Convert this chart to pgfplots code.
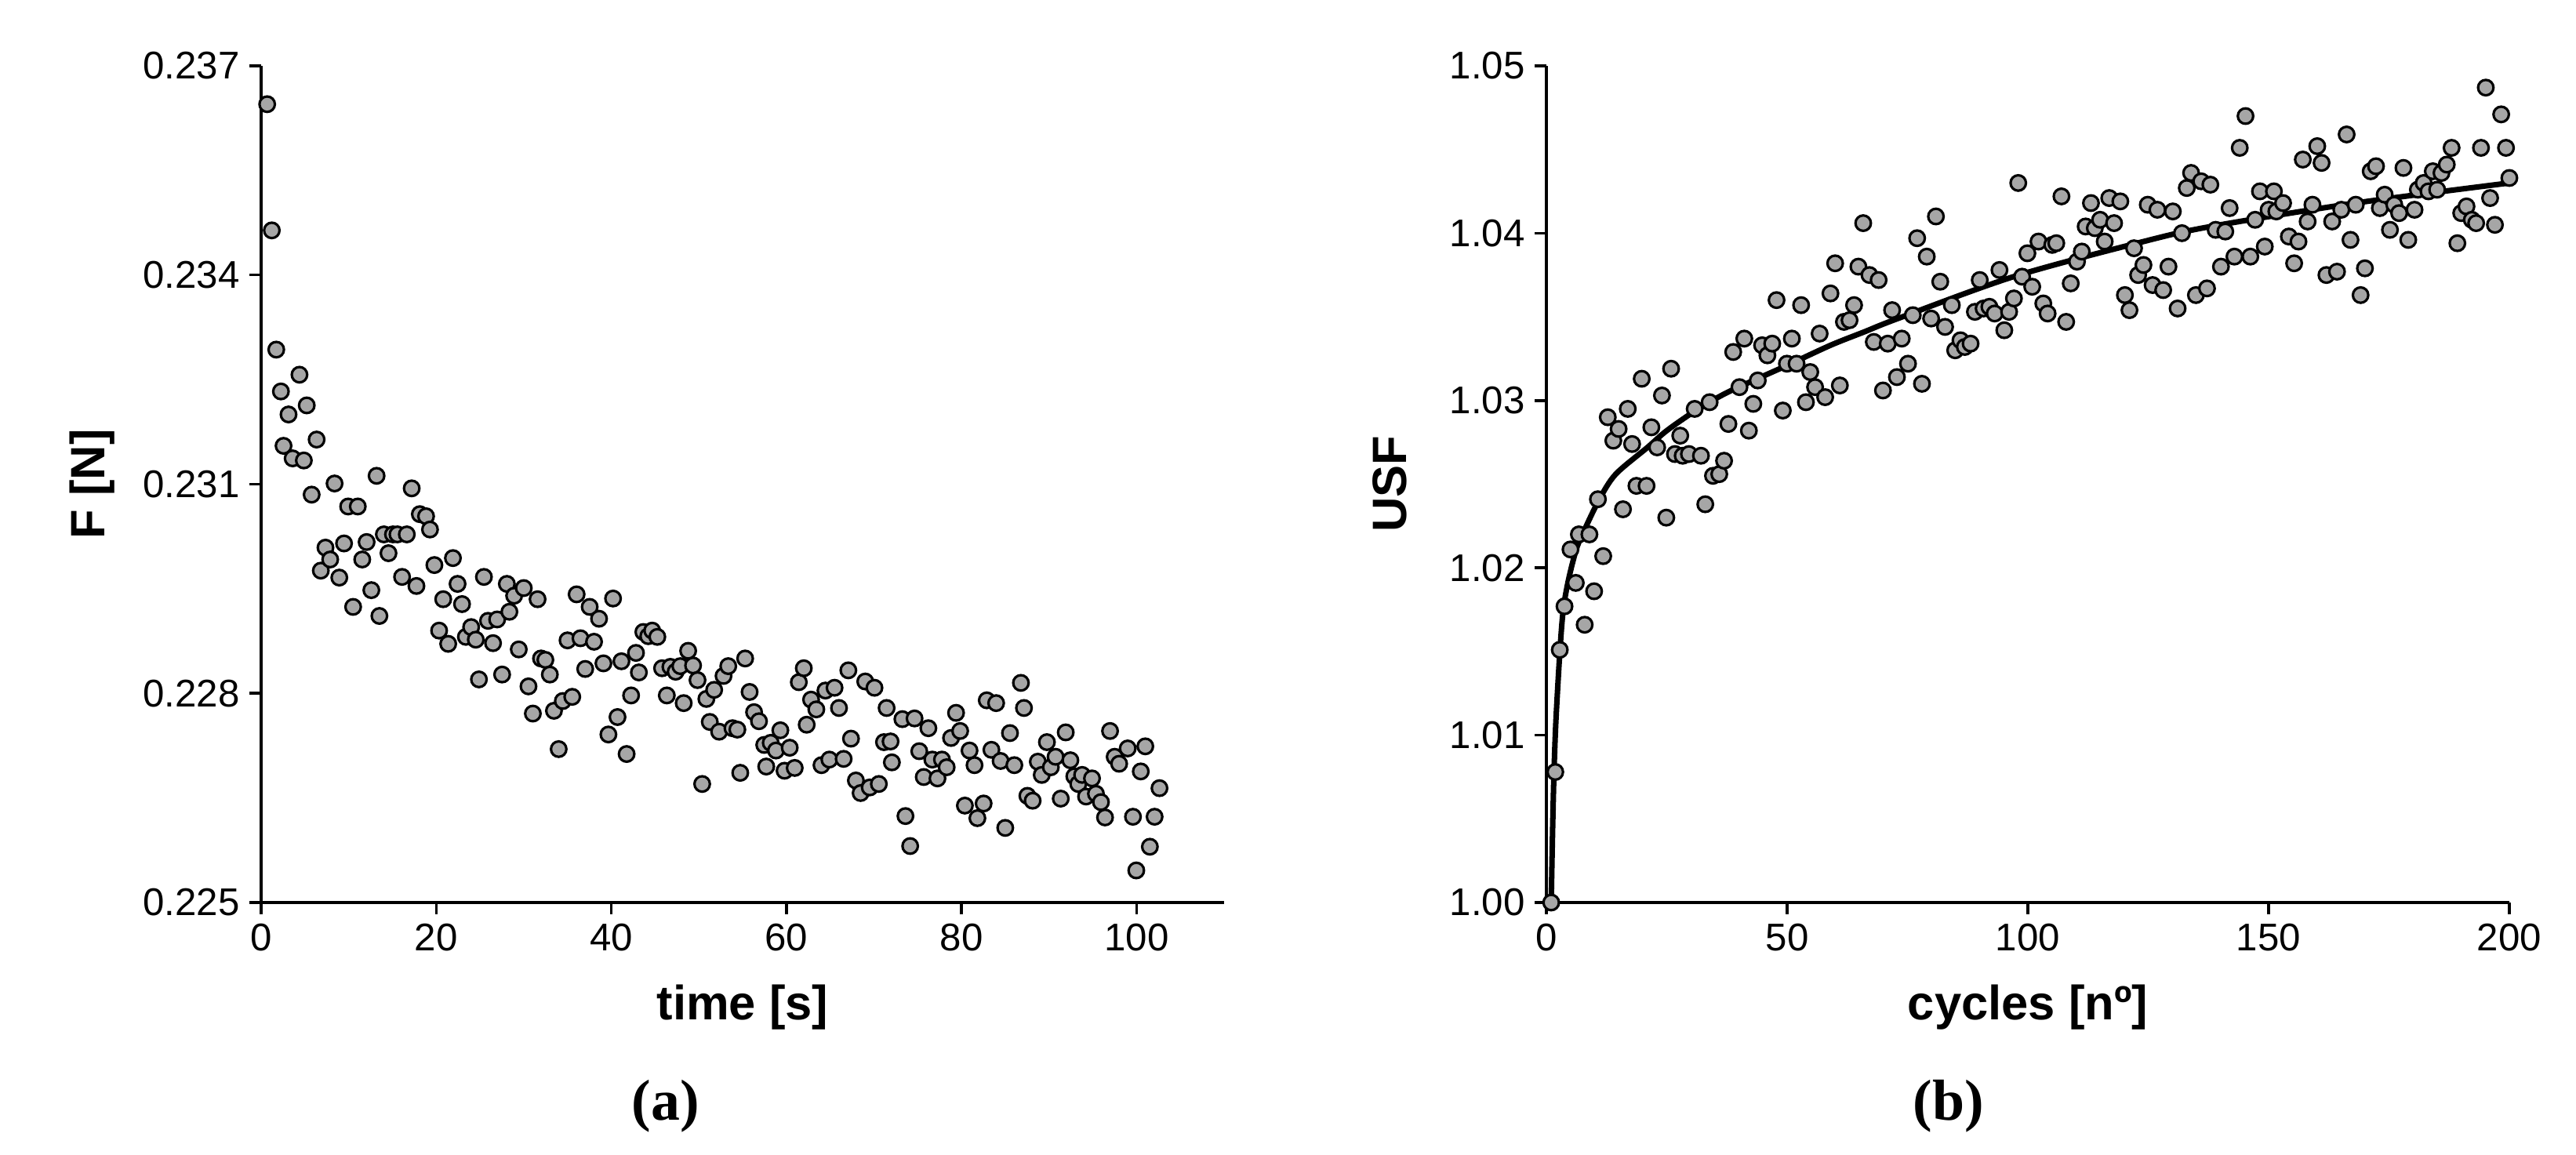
\documentclass[border=0pt]{standalone}
\usepackage{fontspec}
\setmainfont{Liberation Sans}
\newfontfamily\capfont{Liberation Serif}
\usepackage{pgfplots}
\pgfplotsset{compat=1.18}
\definecolor{markgray}{RGB}{166,166,166}

\pgfplotsset{
  panel/.style={
    scale only axis,
    width=12.28cm, height=10.67cm,
    axis lines*=left,
    axis line style={line width=1pt},
    tick align=outside, tick pos=left,
    major tick length=0.15cm,
    every tick/.style={line width=1pt, black},
    xticklabel style={font=\fontsize{14}{17}\selectfont},
    yticklabel style={font=\fontsize{14}{17}\selectfont},
    label style={font=\bfseries\fontsize{17.5}{21}\selectfont},
    clip=false,
  },
  dots/.style={only marks, mark=*, mark size=2.8pt,
    mark options={fill=markgray, draw=black, line width=0.9pt}},
}

\begin{document}
\begin{tikzpicture}
\path[use as bounding box] (0,0) rectangle (32.85,14.73);

% (a) force relaxation
\begin{axis}[panel,
    at={(3.33cm,3.22cm)}, anchor=south west,
    xmin=0, xmax=110, ymin=0.225, ymax=0.237,
    xtick={0,20,40,60,80,100},
    xticklabels={0,20,40,60,80,100},
    ytick={0.225,0.228,0.231,0.234,0.237},
    yticklabels={0.225,0.228,0.231,0.234,0.237},
    xlabel={time [s]}, ylabel={F [N]},
    xlabel style={at={(axis description cs:0.5,-0.1256)}, anchor=center},
    ylabel style={at={(axis description cs:-0.1755,0.5)}, anchor=center},
]
\addplot[dots] coordinates {
(0.69,0.23645) (1.22,0.23464) (1.73,0.23293) (2.26,0.23233) (2.56,0.23155)
(3.13,0.23200) (3.60,0.23137) (4.38,0.23257) (4.88,0.23134) (5.21,0.23213)
(5.77,0.23085) (6.34,0.23164) (6.82,0.22976) (7.35,0.23009) (7.89,0.22992)
(8.39,0.23101) (8.93,0.22966) (9.47,0.23015) (9.94,0.23068) (10.51,0.22924)
(11.04,0.23068) (11.55,0.22992) (12.05,0.23017) (12.59,0.22948) (13.19,0.23112)
(13.51,0.22911) (14.02,0.23028) (14.55,0.23001) (15.06,0.23028) (15.57,0.23028)
(16.10,0.22967) (16.64,0.23028) (17.20,0.23094) (17.74,0.22954) (18.13,0.23057)
(18.84,0.23054) (19.29,0.23035) (19.79,0.22984) (20.33,0.22890) (20.80,0.22935)
(21.37,0.22871) (21.91,0.22994) (22.44,0.22957) (22.95,0.22928) (23.39,0.22881)
(23.99,0.22895) (24.52,0.22877) (24.88,0.22820) (25.45,0.22967) (25.92,0.22904)
(26.49,0.22872) (26.96,0.22906) (27.53,0.22827) (28.07,0.22957) (28.36,0.22917)
(28.90,0.22940) (29.43,0.22863) (30.00,0.22951) (30.54,0.22810) (31.04,0.22771)
(31.58,0.22935) (31.97,0.22850) (32.47,0.22848) (32.98,0.22827) (33.45,0.22775)
(33.99,0.22720) (34.46,0.22789) (35.00,0.22876) (35.54,0.22795) (36.04,0.22942)
(36.48,0.22879) (37.02,0.22835) (37.53,0.22924) (38.03,0.22874) (38.60,0.22907)
(39.10,0.22843) (39.67,0.22741) (40.20,0.22936) (40.71,0.22766) (41.16,0.22846)
(41.75,0.22713) (42.26,0.22797) (42.82,0.22858) (43.15,0.22830) (43.66,0.22888)
(44.22,0.22882) (44.67,0.22890) (45.26,0.22881) (45.80,0.22836) (46.34,0.22797)
(46.75,0.22838) (47.35,0.22831) (47.88,0.22839) (48.27,0.22786) (48.78,0.22861)
(49.34,0.22840) (49.85,0.22819) (50.38,0.22670) (50.86,0.22792) (51.25,0.22759)
(51.75,0.22805) (52.32,0.22745) (52.82,0.22825) (53.36,0.22839) (53.84,0.22750)
(54.40,0.22748) (54.73,0.22686) (55.29,0.22850) (55.80,0.22802) (56.31,0.22773)
(56.87,0.22760) (57.47,0.22726) (57.70,0.22695) (58.21,0.22729) (58.81,0.22718)
(59.31,0.22747) (59.79,0.22689) (60.38,0.22722) (60.95,0.22693) (61.42,0.22816)
(61.99,0.22836) (62.32,0.22755) (62.82,0.22791) (63.42,0.22777) (64.01,0.22697)
(64.46,0.22804) (64.91,0.22705) (65.50,0.22808) (66.01,0.22779) (66.54,0.22706)
(67.08,0.22833) (67.38,0.22735) (67.94,0.22675) (68.48,0.22657) (69.01,0.22817)
(69.52,0.22665) (70.06,0.22808) (70.56,0.22670) (71.15,0.22730) (71.45,0.22779)
(71.90,0.22731) (72.05,0.22701) (73.25,0.22763) (73.60,0.22624) (74.14,0.22581)
(74.64,0.22764) (75.18,0.22717) (75.69,0.22680) (76.22,0.22750) (76.67,0.22705)
(77.26,0.22678) (77.77,0.22705) (78.31,0.22694) (78.81,0.22736) (79.38,0.22772)
(79.85,0.22746) (80.39,0.22639) (80.92,0.22718) (81.49,0.22697) (81.82,0.22621)
(82.53,0.22642) (82.89,0.22790) (83.42,0.22719) (83.96,0.22786) (84.47,0.22703)
(85.00,0.22607) (85.54,0.22743) (86.04,0.22697) (86.79,0.22815) (87.14,0.22779)
(87.53,0.22653) (88.13,0.22646) (88.72,0.22702) (89.17,0.22683) (89.76,0.22730)
(90.21,0.22694) (90.75,0.22709) (91.34,0.22649) (91.91,0.22744) (92.44,0.22704)
(92.89,0.22681) (93.34,0.22670) (93.78,0.22683) (94.23,0.22652) (94.91,0.22678)
(95.36,0.22656) (95.93,0.22644) (96.40,0.22622) (96.97,0.22746) (97.50,0.22709)
(98.01,0.22699) (98.99,0.22721) (99.59,0.22623) (99.97,0.22546) (100.48,0.22688)
(101.00,0.22724) (101.52,0.22580) (102.06,0.22623) (102.62,0.22664)
};
\end{axis}

% (b) USF versus cycles
\begin{axis}[panel,
    at={(19.72cm,3.22cm)}, anchor=south west,
    xmin=0, xmax=200, ymin=1.0, ymax=1.05,
    xtick={0,50,100,150,200},
    xticklabels={0,50,100,150,200},
    ytick={1.00,1.01,1.02,1.03,1.04,1.05},
    yticklabels={1.00,1.01,1.02,1.03,1.04,1.05},
    xlabel={cycles [nº]}, ylabel={USF},
    xlabel style={at={(axis description cs:0.5,-0.1256)}, anchor=center},
    ylabel style={at={(axis description cs:-0.1626,0.5)}, anchor=center},
]
\addplot[dots] coordinates {
(1,1.0000) (1.85,1.0078) (2.78,1.0151) (3.76,1.0177) (5.0,1.0211) (6.1,1.0191)
(6.75,1.0220) (7.95,1.0166) (8.93,1.0220) (9.91,1.0186) (10.7,1.0241) (11.8,1.0207)
(12.75,1.0290) (13.9,1.0276) (15.0,1.0283) (15.9,1.0235) (16.9,1.0295) (17.8,1.0274)
(18.7,1.0249) (19.8,1.0313) (20.8,1.0249) (21.8,1.0284) (23.0,1.0272) (24.0,1.0303)
(24.9,1.0230) (25.9,1.0319) (26.7,1.0268) (27.8,1.0279) (28.3,1.0267) (29.6,1.0268)
(30.8,1.0295) (32.1,1.0267) (33.0,1.0238) (33.9,1.0299) (34.6,1.0255) (35.9,1.0256)
(36.9,1.0264) (37.8,1.0286) (38.8,1.0329) (40.1,1.0308) (41.1,1.0337) (42.05,1.0282)
(42.97,1.0298) (43.9,1.0312) (44.8,1.0333) (45.9,1.0327) (46.9,1.0334) (47.8,1.0360)
(49.1,1.0294) (49.95,1.0322) (50.98,1.0337) (51.96,1.0322) (52.9,1.0357) (53.9,1.0299)
(54.8,1.0317) (55.8,1.0308) (56.75,1.0340) (57.9,1.0302) (59.0,1.0364) (59.97,1.0382)
(60.95,1.0309) (61.8,1.0347) (62.96,1.0348) (63.9,1.0357) (64.8,1.0380) (65.8,1.0406)
(67.1,1.0375) (68.0,1.0335) (69.0,1.0372) (69.9,1.0306) (70.9,1.0334) (71.8,1.0354)
(72.8,1.0314) (73.8,1.0337) (75.1,1.0322) (76.1,1.0351) (77.0,1.0397) (78.0,1.0310)
(79.0,1.0386) (79.9,1.0349) (80.9,1.0410) (81.8,1.0371) (82.8,1.0344) (84.2,1.0357)
(84.9,1.0330) (86.0,1.0336) (86.9,1.0332) (88.1,1.0334) (89.0,1.0353) (90.0,1.0372)
(90.8,1.0355) (92.0,1.0356) (93.1,1.0352) (94.1,1.0378) (95.1,1.0342) (96.1,1.0353)
(97.1,1.0361) (98.0,1.0430) (98.8,1.0374) (99.9,1.0388) (100.9,1.0368) (102.2,1.0395)
(103.2,1.0358) (104.1,1.0352) (105.06,1.0393) (105.9,1.0394) (106.97,1.0422) (107.95,1.0347)
(108.9,1.0370) (110.2,1.0383) (111.2,1.0389) (112.0,1.0404) (113.1,1.0418) (113.9,1.0403)
(115.0,1.0408) (115.95,1.0395) (116.9,1.0421) (117.9,1.0406) (119.2,1.0419) (120.15,1.0363)
(121.1,1.0354) (122.05,1.0391) (122.9,1.0375) (124.0,1.0381) (124.9,1.0417) (125.9,1.0369)
(126.9,1.0414) (128.1,1.0366) (129.2,1.0380) (130.1,1.0413) (131.1,1.0355) (132.0,1.0400)
(133.0,1.0427) (133.9,1.0436) (134.9,1.0363) (136.0,1.0431) (137.2,1.0367) (137.9,1.0429)
(139.0,1.0402) (140.1,1.0380) (141.0,1.0401) (141.9,1.0415) (142.9,1.0386) (144.0,1.0451)
(145.2,1.0470) (146.2,1.0386) (147.2,1.0408) (148.2,1.0425) (149.2,1.0392) (150.0,1.0414)
(151.1,1.0425) (151.6,1.0413) (153.0,1.0418) (154.2,1.0398) (155.3,1.0382) (156.2,1.0395)
(157.1,1.0444) (158.1,1.0407) (159.1,1.0417) (160.1,1.0452) (161.0,1.0442) (162.0,1.0375)
(163.2,1.0407) (164.2,1.0377) (165.1,1.0414) (166.2,1.0459) (167.0,1.0396) (168.1,1.0417)
(169.1,1.0363) (170.0,1.0379) (171.2,1.0437) (172.3,1.0440) (173.1,1.0415) (174.1,1.0423)
(175.2,1.0402) (176.1,1.0417) (177.1,1.0412) (178.0,1.0439) (179.0,1.0396) (180.3,1.0414)
(181.0,1.0426) (182.2,1.0430) (183.2,1.0425) (184.1,1.0437) (185.0,1.0426) (185.9,1.0436)
(187.0,1.0441) (188.0,1.0451) (189.2,1.0394) (190.0,1.0412) (191.1,1.0416) (192.2,1.0408)
(193.1,1.0406) (194.1,1.0451) (195.1,1.0487) (196.0,1.0421) (197.0,1.0405) (198.3,1.0471)
(199.3,1.0451) (200.0,1.0433)
};
% fitted trend
\addplot[smooth, black, line width=2pt] coordinates {
(1,1.0000) (1.3,1.0045) (1.6,1.0080) (2.0,1.0110) (2.8,1.0150) (3.5,1.0175)
(4.6,1.0193) (6.2,1.0211) (7.8,1.0222) (11,1.0241) (14.4,1.0256) (21,1.0272)
(25,1.0282) (31,1.0294) (37,1.0304) (43,1.0312) (50,1.0321) (59,1.0333)
(66,1.0341) (73,1.0349) (97,1.0374) (124,1.0395) (138,1.0404) (168,1.0418)
(200,1.0430)
};
\end{axis}

\node[font=\capfont\bfseries\fontsize{21}{25}\selectfont] at (8.49,0.62) {(a)};
\node[font=\capfont\bfseries\fontsize{21}{25}\selectfont] at (24.85,0.62) {(b)};
\end{tikzpicture}
\end{document}
